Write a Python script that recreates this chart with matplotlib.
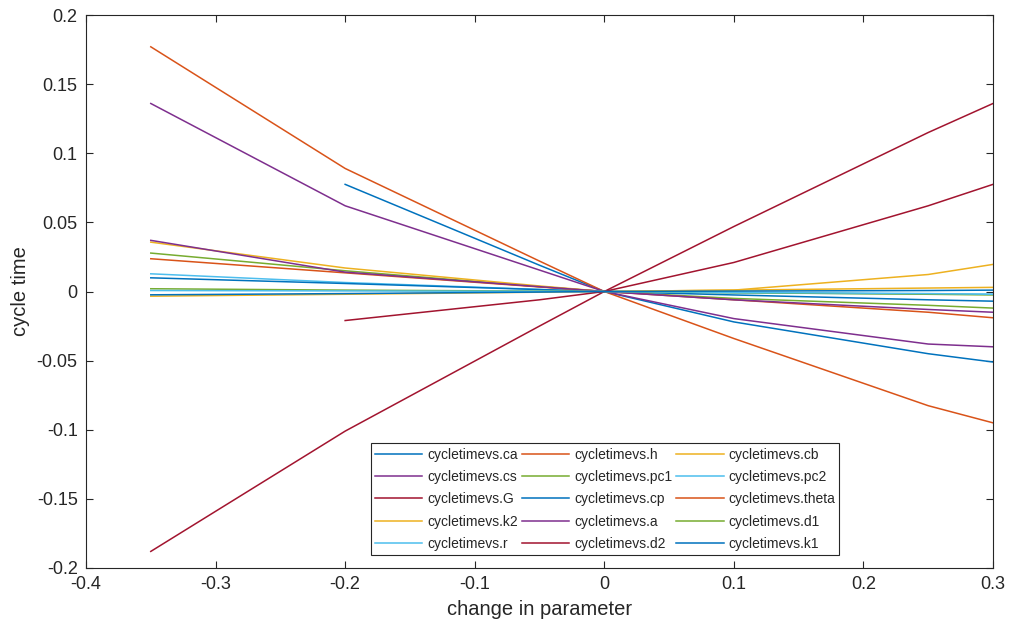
import numpy as np
import matplotlib
matplotlib.use("Agg")
import matplotlib.pyplot as plt

plt.rcParams['font.family'] = ['Liberation Sans', 'DejaVu Sans']

x = [-0.35, -0.2, -0.05, 0, 0.1, 0.25, 0.3]
nan = np.nan

names = ['cycletimevs.ca', 'cycletimevs.h', 'cycletimevs.cb', 'cycletimevs.cs',
         'cycletimevs.pc1', 'cycletimevs.pc2', 'cycletimevs.G', 'cycletimevs.cp',
         'cycletimevs.theta', 'cycletimevs.k2', 'cycletimevs.a', 'cycletimevs.d1',
         'cycletimevs.r', 'cycletimevs.d2', 'cycletimevs.k1']

ca    = [nan, 0.0775, 0.019, 0, -0.022, -0.045, -0.051]
h     = [0.177, 0.089, 0.022, 0, -0.034, -0.0826, -0.095]
cb    = [-0.0034, -0.002, -0.0005, 0, 0.001, 0.0025, 0.003]
cs    = [0.136, 0.062, 0.0155, 0, -0.0196, -0.038, -0.040]
pc1   = [0.0278, 0.015, 0.0035, 0, -0.005, -0.010, -0.012]
pc2   = [0.0128, 0.0065, 0.0015, 0, -0.001, -0.0018, -0.002]
G     = [-0.188, -0.101, -0.025, 0, 0.047, 0.115, 0.136]
cp    = [0.0099, 0.0058, 0.0014, 0, -0.0025, -0.006, -0.007]
theta = [0.0237, 0.0135, 0.0033, 0, -0.006, -0.015, -0.019]
k2    = [0.0357, 0.017, 0.004, 0, 0.001, 0.0123, 0.0196]
a     = [0.037, 0.014, 0.0035, 0, -0.006, -0.013, -0.015]
d1    = [0.002, 0.001, 0.0003, 0, -0.0008, -0.002, -0.0025]
r     = [0.0007, 0.0004, 0.0001, 0, -0.0006, -0.0015, -0.002]
d2    = [nan, -0.021, -0.006, 0, 0.021, 0.062, 0.0775]
k1    = [-0.0024, -0.0015, -0.0004, 0, 0.0003, 0.0007, 0.001]

series = [ca, h, cb, cs, pc1, pc2, G, cp, theta, k2, a, d1, r, d2, k1]

colors = [(0, 0.447, 0.741), (0.85, 0.325, 0.098), (0.929, 0.694, 0.125),
          (0.494, 0.184, 0.556), (0.466, 0.674, 0.188), (0.301, 0.745, 0.933),
          (0.635, 0.078, 0.184)]

fig = plt.figure(figsize=(10.11, 6.32), dpi=100)
ax = fig.add_axes([86/1011, 1-568/632, (993-86)/1011, (568-15)/632])

handles = []
for i, (nm, ys) in enumerate(zip(names, series)):
    ln, = ax.plot(x, ys, color=colors[i % 7], lw=1.1, label=nm)
    handles.append(ln)

ax.set_xlim(-0.4, 0.3)
ax.set_ylim(-0.2, 0.2)
ax.set_xticks([-0.4, -0.3, -0.2, -0.1, 0, 0.1, 0.2, 0.3])
ax.set_xticklabels(['-0.4', '-0.3', '-0.2', '-0.1', '0', '0.1', '0.2', '0.3'])
ax.set_yticks([-0.2, -0.15, -0.1, -0.05, 0, 0.05, 0.1, 0.15, 0.2])
ax.set_yticklabels(['-0.2', '-0.15', '-0.1', '-0.05', '0', '0.05', '0.1', '0.15', '0.2'])
gray = (0.15, 0.15, 0.15)
ax.tick_params(direction='in', top=True, right=True, length=5, width=0.8,
               labelsize=13, colors=gray, pad=6)
for s in ax.spines.values():
    s.set_color(gray)
    s.set_linewidth(0.8)
ax.set_xlabel('change in parameter', fontsize=14.5, color=gray, labelpad=5)
ax.set_ylabel('cycle time', fontsize=14.5, color=gray, labelpad=5)

# legend row-wise order (3 columns, 5 rows)
ncol = 3
nrow = 5
order = [r_ * ncol + c for c in range(ncol) for r_ in range(nrow)]
leg = ax.legend([handles[k] for k in order], [names[k] for k in order],
                ncol=ncol, loc='lower left', bbox_to_anchor=(0.314, 0.0235),
                fontsize=10, frameon=True, fancybox=False, framealpha=1,
                edgecolor=gray, handlelength=3.4, handletextpad=0.35,
                columnspacing=0.3, labelspacing=0.6, borderpad=0.3,
                borderaxespad=0)
leg.get_frame().set_linewidth(0.8)
for t in leg.get_texts():
    t.set_color(gray)

fig.savefig('out.png', dpi=100)
